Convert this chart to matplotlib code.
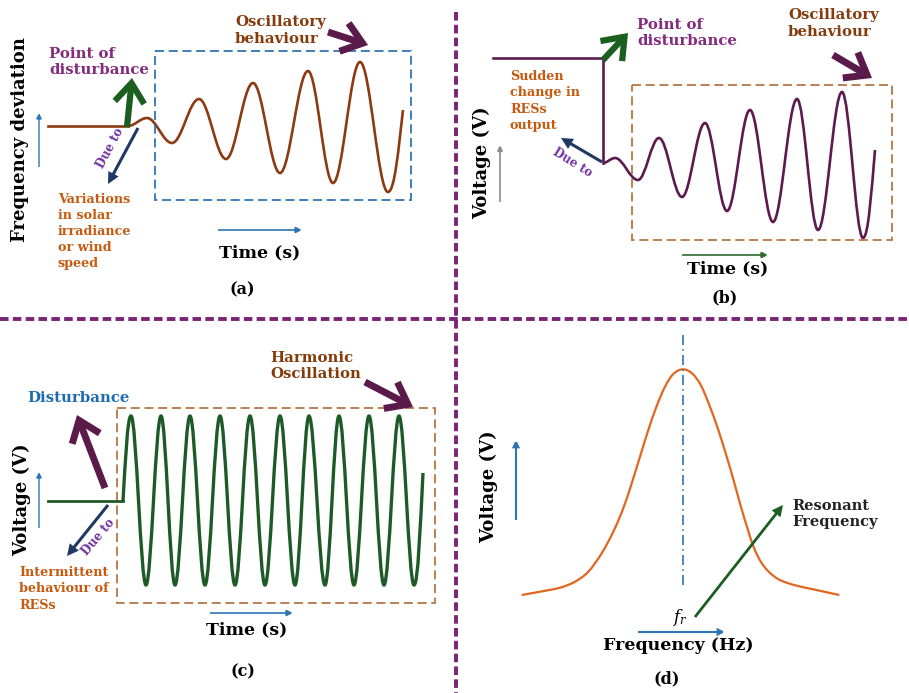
import numpy as np
import matplotlib
matplotlib.use('Agg')
import matplotlib.pyplot as plt
from matplotlib.path import Path
from matplotlib.patches import PathPatch, FancyArrowPatch, Rectangle

# ---------------- data (pixel units) ----------------
# (a) frequency deviation: pre-disturbance level and growing oscillation extrema
a_flat_x = [48, 128]
a_flat_y = [126, 126]
a_wave_x = [128, 147, 172, 199, 226, 253, 280, 308, 333, 360, 388, 403]
a_wave_y = [126, 118, 143, 99, 159, 83, 173, 71, 183, 62, 192, 110]

# (b) voltage: step then growing oscillation extrema
b_step_x = [493, 603, 603]
b_step_y = [58, 58, 163]
b_wave_x = [603, 615, 638, 659, 682, 705, 727, 750, 773, 797, 818, 842, 863, 875]
b_wave_y = [163, 158, 180, 138, 197, 123, 211, 110, 222, 99, 230, 92, 238, 150]

# (c) harmonic oscillation: flat level, peaks, troughs
c_flat_x = [48, 123]
c_flat_y = [501, 501]
c_peak_x = [131, 161, 190, 220, 250, 280, 309, 339, 369, 399]
c_trough_x = [146, 175, 205, 235, 265, 295, 325, 354, 384, 414]
c_peak_y = 416
c_trough_y = 585
c_end = (423, 473)

# (d) resonance curve samples
d_freq_x = [521.7, 540, 560, 575, 588.3, 601.7, 613.3, 623.3, 631.7, 640, 648.3,
            656.7, 665, 673.3, 682.7, 692, 700.7, 709.3, 718.3, 726.7, 734, 741,
            748, 754, 761, 769, 779, 794, 814, 839.3]
d_volt_y = [595, 591.7, 587.7, 581.7, 571.7, 553.3, 531.7, 508.3, 483.3, 456.7, 430,
            406, 386.7, 374, 369.3, 373.3, 385, 405, 430, 456.7, 481.7, 507,
            530, 548, 562, 572, 579.5, 585, 589.5, 595]
d_fr_x = 683

# ---------------- colours ----------------
BROWN_WAVE = '#8B3A12'
PURPLE_WAVE = '#5C1A4E'
GREEN_WAVE = '#1E5A28'
ORANGE_CURVE = '#E2661E'
BLUE = '#2E75B6'
BOX_BROWN = '#B87545'
TXT_PURPLE = '#862A80'
TXT_ORANGE = '#C55A11'
TXT_BROWN = '#843C0C'
DARK_PURPLE = '#5A1A4A'
DARK_GREEN = '#1A5E20'
NAVY = '#1F3864'
VIOLET = '#7030A0'
DIVIDER = '#7A2475'

plt.rcParams['mathtext.fontset'] = 'dejavuserif'
FONT = 'DejaVu Serif'

W, H = 909, 693
fig = plt.figure(figsize=(9.09, 6.93), dpi=100)
ax = fig.add_axes([0, 0, 1, 1])
ax.set_xlim(0, W)
ax.set_ylim(H, 0)
ax.axis('off')


def wave_path(xs, ys, steep_start=False, steep_end=False, k=0.36):
    verts = [(xs[0], ys[0])]
    codes = [Path.MOVETO]
    n = len(xs)
    for i in range(n - 1):
        x0, y0, x1, y1 = xs[i], ys[i], xs[i + 1], ys[i + 1]
        dx, dy = x1 - x0, y1 - y0
        c1 = (x0 + k * dx, y0)
        c2 = (x1 - k * dx, y1)
        if steep_start and i == 0:
            c1 = (x0 + 0.3 * dx, y0 + 0.3 * dy * np.pi / 2)
            c2 = (x1 - 0.45 * dx, y1)
        if steep_end and i == n - 2:
            c1 = (x0 + 0.45 * dx, y0)
            c2 = (x1 - 0.3 * dx, y1 - 0.3 * dy * np.pi / 2)
        verts += [c1, c2, (x1, y1)]
        codes += [Path.CURVE4] * 3
    return Path(verts, codes)


def smooth_path(xs, ys):
    pts = np.column_stack([xs, ys]).astype(float)
    verts = [tuple(pts[0])]
    codes = [Path.MOVETO]
    for i in range(len(pts) - 1):
        p0 = pts[i - 1] if i > 0 else pts[i]
        p1, p2 = pts[i], pts[i + 1]
        p3 = pts[i + 2] if i + 2 < len(pts) else pts[i + 1]
        c1 = p1 + (p2 - p0) / 6
        c2 = p2 - (p3 - p1) / 6
        verts += [tuple(c1), tuple(c2), tuple(p2)]
        codes += [Path.CURVE4] * 3
    return Path(verts, codes)


def arrow(p0, p1, color, lw, style='-|>', ms=12):
    ax.add_patch(FancyArrowPatch(p0, p1, arrowstyle=style, color=color, lw=lw,
                                 mutation_scale=ms, shrinkA=0, shrinkB=0,
                                 joinstyle='miter', capstyle='butt', zorder=5))


THICK = '->,head_length=0.5,head_width=0.38'


def thick_arrow(p0, p1, color, lw=5.0):
    arrow(p0, p1, color, lw, THICK, 28)


def label(x, y, s, color='black', size=10, ha='left', va='center', rot=0, ls=1.2, weight='bold', **kw):
    ax.text(x, y, s, color=color, fontsize=size, ha=ha, va=va, rotation=rot,
            family=FONT, weight=weight, linespacing=ls, rotation_mode='anchor', **kw)


def box(x0, y0, x1, y1, color):
    ax.add_patch(Rectangle((x0, y0), x1 - x0, y1 - y0, fill=False, ec=color, lw=1.3,
                           ls=(0, (5, 2.6))))


# ---------------- dividers ----------------
ax.plot([456, 456], [12, H], color=DIVIDER, lw=2.8, ls=(0, (2.2, 1.1)), solid_capstyle='butt')
ax.plot([0, W], [319, 319], color=DIVIDER, lw=2.8, ls=(0, (2.2, 1.1)), solid_capstyle='butt')

# ---------------- panel (a) ----------------
ax.plot(a_flat_x, a_flat_y, color=BROWN_WAVE, lw=1.9)
ax.add_patch(PathPatch(wave_path(a_wave_x, a_wave_y, steep_end=True), fill=False,
                       ec=BROWN_WAVE, lw=1.9))
box(155, 51, 411, 200, BLUE)
thick_arrow((127, 127), (132, 78), DARK_GREEN, 4.5)
thick_arrow((328, 32), (368, 45), DARK_PURPLE)
arrow((138, 128), (108, 184), NAVY, 2.2, '-|>', 12)
arrow((39, 167), (39, 113), BLUE, 1.0, '-|>', 8)
arrow((218, 230), (302, 230), BLUE, 1.2, '-|>', 9)
label(49, 62, 'Point of\ndisturbance', TXT_PURPLE, 10.7)
label(235, 30.5, 'Oscillatory\nbehaviour', TXT_BROWN, 10.7)
label(58, 231.5, 'Variations\nin solar\nirradiance\nor wind\nspeed', TXT_ORANGE, 9.2, ls=1.32)
label(110, 148, 'Due to', VIOLET, 8.5, ha='center', rot=62)
label(20, 140, 'Frequency deviation', 'black', 13, ha='center', rot=90)
label(260, 253, 'Time (s)', 'black', 12.5, ha='center')
label(242, 290, '(a)', 'black', 11.5, ha='center')

# ---------------- panel (b) ----------------
ax.plot(b_step_x, b_step_y, color=PURPLE_WAVE, lw=1.9)
ax.add_patch(PathPatch(wave_path(b_wave_x, b_wave_y, steep_end=True), fill=False,
                       ec=PURPLE_WAVE, lw=1.9))
box(632, 85, 892, 240, BOX_BROWN)
thick_arrow((603, 60), (628, 33), DARK_GREEN, 4.5)
thick_arrow((833, 55), (872, 78), DARK_PURPLE)
arrow((602, 162), (561, 138), NAVY, 2.2, '-|>', 12)
arrow((500, 202), (500, 145), '#8C8C8C', 1.2, '-|>', 8)
arrow((682, 255), (768, 255), '#2F6B2F', 1.2, '-|>', 9)
label(637, 33, 'Point of\ndisturbance', TXT_PURPLE, 10.7)
label(788, 23.5, 'Oscillatory\nbehaviour', TXT_BROWN, 10.7)
label(510, 101, 'Sudden\nchange in\nRESs\noutput', TXT_ORANGE, 9.2, ls=1.32)
label(572, 163, 'Due to', VIOLET, 8.5, ha='center', rot=-32)
label(482, 163, 'Voltage (V)', 'black', 13, ha='center', rot=90)
label(728, 269, 'Time (s)', 'black', 12.5, ha='center')
label(725, 298, '(b)', 'black', 11.5, ha='center')

# ---------------- panel (c) ----------------
c_x = [c_flat_x[-1]]
c_y = [c_flat_y[-1]]
for px, tx in zip(c_peak_x, c_trough_x):
    c_x += [px, tx]
    c_y += [c_peak_y, c_trough_y]
c_x.append(c_end[0])
c_y.append(c_end[1])
ax.plot(c_flat_x, c_flat_y, color=GREEN_WAVE, lw=2.0)
ax.add_patch(PathPatch(wave_path(c_x, c_y, steep_start=True, steep_end=True), fill=False,
                       ec=GREEN_WAVE, lw=2.4))
box(117, 408, 435, 603, BOX_BROWN)
thick_arrow((105, 488), (77, 415), DARK_PURPLE)
thick_arrow((365, 382), (413, 407), DARK_PURPLE)
arrow((108, 505), (67, 556), NAVY, 2.2, '-|>', 12)
arrow((39, 528), (39, 472), BLUE, 1.0, '-|>', 8)
arrow((210, 613), (293, 613), BLUE, 1.2, '-|>', 9)
label(27, 398, 'Disturbance', '#1F6BAF', 10.7)
label(270, 366, 'Harmonic\nOscillation', TXT_BROWN, 10.7)
label(98, 537, 'Due to', VIOLET, 8.5, ha='center', rot=50)
label(19, 589, 'Intermittent\nbehaviour of\nRESs', TXT_ORANGE, 9.2, ls=1.32)
label(22, 500, 'Voltage (V)', 'black', 13, ha='center', rot=90)
label(247, 630, 'Time (s)', 'black', 12.5, ha='center')
label(243, 672, '(c)', 'black', 11.5, ha='center')

# ---------------- panel (d) ----------------
ax.add_patch(PathPatch(smooth_path(d_freq_x, d_volt_y), fill=False, ec=ORANGE_CURVE, lw=1.6))
ax.plot([d_fr_x, d_fr_x], [335, 588], color=BLUE, lw=1.2, ls=(0, (6, 2.5, 1, 2.5)))
arrow((695, 617), (783, 505), DARK_GREEN, 2.0, '-|>', 12)
arrow((516, 520), (516, 440), BLUE, 1.5, '-|>', 9)
arrow((638, 632), (725, 632), BLUE, 1.5, '-|>', 9)
ax.text(d_fr_x - 3, 618, r'$f_r$', fontsize=12, ha='center', va='center', color='black')
label(792, 514, 'Resonant\nFrequency', '#222222', 10.5, weight='semibold')
label(489, 487, 'Voltage (V)', 'black', 13, ha='center', rot=90)
label(678, 645, 'Frequency (Hz)', 'black', 12.5, ha='center')
label(667, 679, '(d)', 'black', 11.5, ha='center')

fig.savefig('out.png', dpi=100)
